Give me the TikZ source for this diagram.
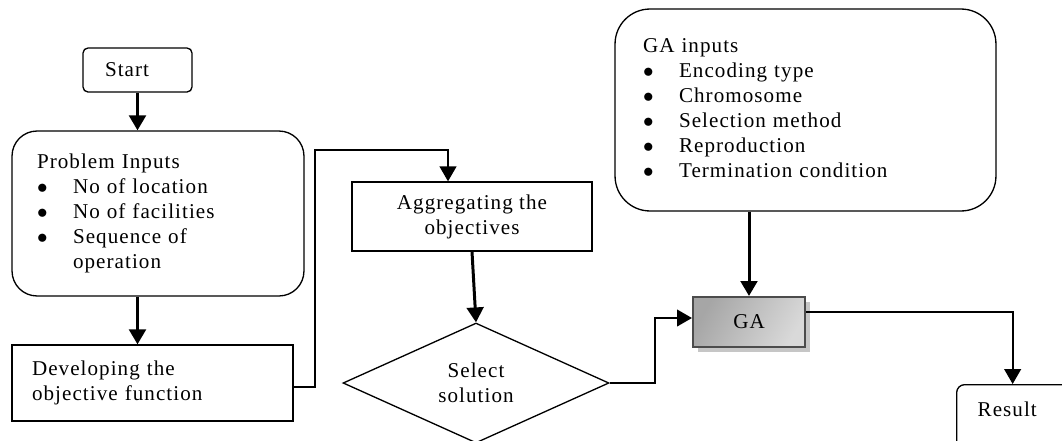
\documentclass[tikz,border=0pt]{standalone}
\usepackage{fontspec}
\setmainfont{Liberation Serif}[LetterSpace=5]
\usetikzlibrary{arrows.meta,shapes.geometric,shadows}

\newcommand*{\bulletcol}{0.72cm}
\newcommand*{\bigdot}{$\bullet$}

\begin{document}
\begin{tikzpicture}
[
	x=0.02cm, y=-0.02cm,
	every node/.style={font=\fontsize{12}{14.2}\selectfont},
	box/.style={draw,line width=0.75pt},
	roundbox/.style={box,rounded corners=#1},
	gabox/.style={draw=gray!60!black,line width=1.2pt,left color=gray!70,right color=gray!30,shading angle=60,
		drop shadow={shadow xshift=0.1cm,shadow yshift=-0.1cm,fill=gray!45,opacity=1}},
	flow/.style={line width=1.1pt,-{Triangle[length=8.5pt,width=9.5pt]}},
	thickflow/.style={flow,line width=1.7pt}
]

	\path[use as bounding box,clip] (0,0) rectangle (1062,440);

	% boxes
	\node[roundbox=0.1cm,minimum width=2.18cm,minimum height=0.88cm,inner xsep=0.44cm,text width=1.3cm,align=left]
	  (start) at (137.5,70) {Start};

	\node[roundbox=0.5cm,minimum width=5.84cm,minimum height=3.3cm,inner xsep=0.5cm,text width=4.84cm,align=left]
	  (prob) at (158,213.5) {\noindent\begin{tabular}{@{}p{\bulletcol}@{}l@{}}
	  \multicolumn{2}{@{}l@{}}{Problem Inputs}\\
	  \bigdot & No of location\\
	  \bigdot & No of facilities\\
	  \bigdot & Sequence of\\
	   & operation
	  \end{tabular}};

	\node[box,minimum width=5.62cm,minimum height=1.52cm,inner xsep=0.4cm,text width=4.82cm,align=left]
	  (dev) at (152.5,383) {Developing the\\objective function};

	\node[box,minimum width=4.8cm,minimum height=1.38cm,align=center]
	  (aggr) at (472,216.5) {Aggregating the\\objectives};

	\node[diamond,box,minimum width=5.32cm,minimum height=2.4cm,inner sep=0pt,align=center]
	  (select) at (476,383) {Select\\solution};

	\node[roundbox=0.7cm,minimum width=7.62cm,minimum height=4.04cm,inner xsep=0.56cm,text width=6.5cm,align=left]
	  (gain) at (805.5,110) {\noindent\begin{tabular}{@{}p{\bulletcol}@{}l@{}}
	  \multicolumn{2}{@{}l@{}}{GA inputs}\\
	  \bigdot & Encoding type\\
	  \bigdot & Chromosome\\
	  \bigdot & Selection method\\
	  \bigdot & Reproduction\\
	  \bigdot & Termination condition
	  \end{tabular}};

	\node[gabox,minimum width=2.24cm,minimum height=1cm] (ga) at (749,322) {GA};

	\node[roundbox=0.16cm,anchor=north west,minimum width=2.6cm,inner xsep=0.42cm,inner ysep=0.14cm,
	  text width=1.76cm,text height=0.5cm,text depth=1cm,align=left]
	  (result) at (956,384) {Result};

	% connectors
	\draw[thickflow] (start.south) -- (start.south |- prob.north);
	\draw[thickflow] (start.south |- prob.south) -- (start.south |- dev.north);

	\coordinate (upleft) at (315,150);
	\draw[flow] ([yshift=-0.08cm]dev.east) -| (upleft) -| ([xshift=-0.48cm]aggr.north);

	\draw[thickflow] (aggr.south) -- (select.north);
	\draw[flow] (select.east) -- ++(0.9cm,0) |- ([yshift=0.08cm]ga.west);

	\draw[thickflow] (ga.north |- gain.south) -- (ga.north);
	\draw[flow] ([yshift=0.2cm]ga.east) -| ([xshift=-0.18cm]result.north);

\end{tikzpicture}
\end{document}
